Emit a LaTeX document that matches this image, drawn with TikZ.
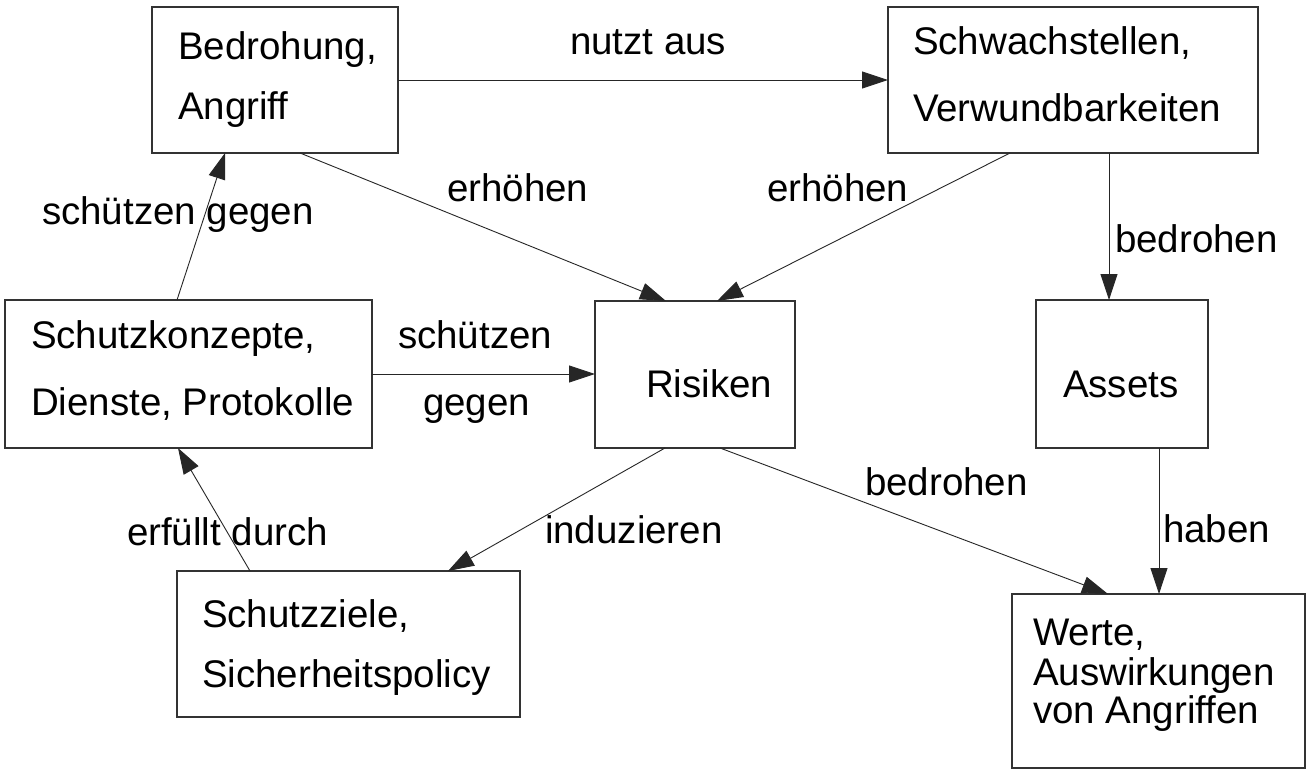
\documentclass[tikz,border=0pt]{standalone}
\usepackage{fontspec}
\setmainfont{Liberation Sans}
\usetikzlibrary{arrows.meta}
\begin{document}
\begin{tikzpicture}[x=1pt,y=-1pt,
  box/.style={draw=black!80,line width=1.3pt,rectangle,inner sep=0,outer sep=0},
  txt/.style={anchor=base west,inner sep=0,outer sep=0,font=\fontsize{38.5}{46}\selectfont},
  conn/.style={draw=black!85,line width=0.9pt,-{Triangle[length=26pt,width=17pt]}}]
\useasboundingbox[fill=white] (0,0) rectangle (1309,770);
% boxes
\node[box,minimum width=246pt,minimum height=146pt] (bed) at (275,80) {};
\node[box,minimum width=370pt,minimum height=146pt] (sch) at (1073,80) {};
\node[box,minimum width=367pt,minimum height=148pt] (skz) at (188.5,374) {};
\node[box,minimum width=200pt,minimum height=147pt] (ris) at (695,374.5) {};
\node[box,minimum width=172pt,minimum height=148pt] (ast) at (1122,374) {};
\node[box,minimum width=343pt,minimum height=146pt] (szi) at (348.5,644) {};
\node[box,minimum width=293pt,minimum height=174pt] (wer) at (1158.5,681) {};
% box texts
\node[txt] (bed1) at (178,60) {Bedrohung,};
\node[txt] (bed2) at (178,120) {Angriff};
\node[txt] (sch1) at (913,55) {Schwachstellen,};
\node[txt] (sch2) at (913,122) {Verwundbarkeiten};
\node[txt] (skz1) at (31,348) {Schutzkonzepte,};
\node[txt] (skz2) at (31,415) {Dienste, Protokolle};
\node[txt] (ris1) at (646,397) {Risiken};
\node[txt] (ast1) at (1063,397) {Assets};
\node[txt] (szi1) at (202,627) {Schutzziele,};
\node[txt] (szi2) at (202,687) {Sicherheitspolicy};
\node[txt] (wer1) at (1033,645) {Werte,};
\node[txt] (wer2) at (1033,685) {Auswirkungen};
\node[txt] (wer3) at (1033,723) {von Angriffen};
% connectors
\draw[conn] (bed.east) -- (sch.west);
\draw[conn] ([xshift=25pt]bed.south) -- ([xshift=-29pt]ris.north);
\draw[conn] ([xshift=-63pt]sch.south) -- ([xshift=22pt]ris.north);
\draw[conn] ([xshift=36pt]sch.south) -- ([xshift=-13pt]ast.north);
\draw[conn] ([xshift=-11.5pt]skz.north) -- ([xshift=-50pt]bed.south);
\draw[conn] (skz.east) -- (skz.east -| ris.west);
\draw[conn] ([xshift=-98.5pt]szi.north) -- ([xshift=-10.5pt]skz.south);
\draw[conn] ([xshift=-30pt]ris.south) -- ([xshift=99.5pt]szi.north);
\draw[conn] ([xshift=25pt]ris.south) -- ([xshift=-50.5pt]wer.north);
\draw[conn] ([xshift=37pt]ast.south) -- ([xshift=0.5pt]wer.north);
% connector labels
\node[txt] (l1) at (570,55) {nutzt aus};
\node[txt] (l2) at (447,202) {erhöhen};
\node[txt] (l3) at (767,202) {erhöhen};
\node[txt] (l4) at (1115,252) {bedrohen};
\node[txt] (l5) at (42,225) {schützen gegen};
\node[txt] (l6) at (398,348) {schützen};
\node[txt] (l7) at (423,415) {gegen};
\node[txt] (l8) at (127,545) {erfüllt durch};
\node[txt] (l9) at (545,543) {induzieren};
\node[txt] (l10) at (865,495) {bedrohen};
\node[txt] (l11) at (1163,542) {haben};
\end{tikzpicture}
\end{document}
